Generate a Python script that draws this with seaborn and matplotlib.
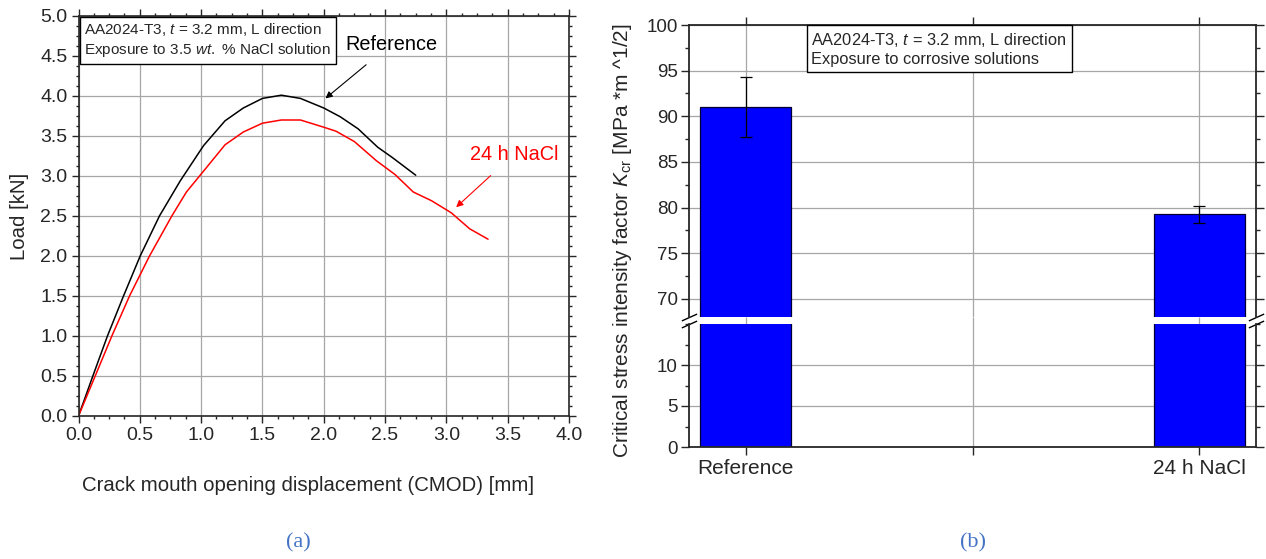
import numpy as np
import pandas as pd
import seaborn as sns
import matplotlib.pyplot as plt
from matplotlib.ticker import MultipleLocator

# data
ref_cmod = [0, 0.117, 0.236, 0.367, 0.503, 0.66, 0.83, 1.02, 1.195, 1.344, 1.50,
            1.654, 1.81, 2.0, 2.135, 2.28, 2.44, 2.56, 2.75]
ref_load = [0, 0.5, 1.0, 1.5, 2.0, 2.5, 2.94, 3.38, 3.69, 3.85, 3.97,
            4.01, 3.97, 3.85, 3.74, 3.59, 3.36, 3.23, 3.01]
nacl_cmod = [0, 0.136, 0.272, 0.416, 0.579, 0.761, 0.88, 1.03, 1.195, 1.344, 1.50,
             1.654, 1.81, 2.0, 2.10, 2.25, 2.43, 2.58, 2.73, 2.88, 3.04, 3.19, 3.34]
nacl_load = [0, 0.5, 1.0, 1.5, 2.0, 2.5, 2.80, 3.08, 3.39, 3.55, 3.66,
             3.70, 3.70, 3.61, 3.56, 3.43, 3.19, 3.02, 2.80, 2.69, 2.54, 2.34, 2.21]

conditions = ["Reference", "24 h NaCl"]
kcr = [91.0, 79.25]
kcr_err = [3.25, 0.95]

curves = pd.concat([
    pd.DataFrame({"cmod": ref_cmod, "load": ref_load, "series": "Reference"}),
    pd.DataFrame({"cmod": nacl_cmod, "load": nacl_load, "series": "24 h NaCl"}),
])
bars = pd.DataFrame({"condition": conditions, "kcr": kcr})

sns.set_style("ticks")
plt.rcParams["font.family"] = ["Liberation Sans", "DejaVu Sans"]
plt.rcParams["mathtext.fontset"] = "custom"
plt.rcParams["mathtext.rm"] = "Liberation Sans"
plt.rcParams["mathtext.it"] = "Liberation Sans:italic"

W, H = 1266, 559
fig = plt.figure(figsize=(W / 100, H / 100), dpi=100)
ax_l = fig.add_axes([78.5 / W, 1 - 416 / H, 490.5 / W, 400 / H])
ax_up = fig.add_axes([689 / W, 1 - 317 / H, 567 / W, 292 / H])
ax_lo = fig.add_axes([689 / W, 1 - 447 / H, 567 / W, 123 / H])

grid_kw = dict(color="#a6a6a6", lw=0.9)

#%% (a) load vs CMOD
sns.lineplot(data=curves, x="cmod", y="load", hue="series",
             palette={"Reference": "black", "24 h NaCl": "#ff0000"},
             estimator=None, sort=False, lw=1.1, legend=False, ax=ax_l)
ax_l.set_xlim(0, 4)
ax_l.set_ylim(0, 5)
ax_l.xaxis.set_major_locator(MultipleLocator(0.5))
ax_l.yaxis.set_major_locator(MultipleLocator(0.5))
ax_l.xaxis.set_minor_locator(MultipleLocator(0.125))
ax_l.yaxis.set_minor_locator(MultipleLocator(0.125))
ax_l.xaxis.set_major_formatter("{x:.1f}")
ax_l.yaxis.set_major_formatter("{x:.1f}")
ax_l.grid(True, which="major", **grid_kw)
ax_l.set_axisbelow(True)
ax_l.tick_params(which="both", direction="out", top=True, right=True,
                 width=1, labelsize=14, pad=3)
ax_l.tick_params(which="major", length=5)
ax_l.tick_params(which="minor", length=2.5)
for s in ax_l.spines.values():
    s.set_linewidth(1.2)
ax_l.set_xlabel("Crack mouth opening displacement (CMOD) [mm]", fontsize=14.7)
ax_l.set_ylabel("Load [kN]", fontsize=14.7)
ax_l.xaxis.set_label_coords(0.468, -0.15)
ax_l.yaxis.set_label_coords(-0.1, 0.5)

ax_l.text(0.012, 0.988, "AA2024-T3, $t$ = 3.2 mm, L direction\n"
          "Exposure to 3.5 $wt.$ % NaCl solution",
          transform=ax_l.transAxes, ha="left", va="top", fontsize=11,
          linespacing=1.25,
          bbox=dict(boxstyle="square,pad=0.3", fc="white", ec="black", lw=1))
ax_l.annotate("Reference", xy=(2.014, 3.97), xytext=(2.55, 4.65),
              ha="center", va="center", fontsize=14.3, color="black",
              arrowprops=dict(arrowstyle="-|>", color="black", lw=0.8,
                              mutation_scale=10, shrinkA=9, shrinkB=0))
ax_l.annotate("24 h NaCl", xy=(3.08, 2.61), xytext=(3.55, 3.27),
              ha="center", va="center", fontsize=14.3, color="#ff0000",
              arrowprops=dict(arrowstyle="-|>", color="#ff0000", lw=0.8,
                              mutation_scale=10, shrinkA=9, shrinkB=0))

#%% (b) broken-axis bar chart of K_cr
for ax in (ax_up, ax_lo):
    sns.barplot(data=bars, x="condition", y="kcr", color="#0000ff",
                saturation=1, width=0.2, edgecolor="#000033", linewidth=0.9,
                errorbar=None, ax=ax)
    ax.set_xlim(-0.125, 1.125)
    ax.set_xticks([0, 0.5, 1])
    ax.grid(True, which="major", **grid_kw)
    ax.set_axisbelow(True)
    ax.set_xlabel("")
    ax.set_ylabel("")
    ax.yaxis.set_minor_locator(MultipleLocator(2.5))
    ax.tick_params(which="both", direction="out", right=True, width=1,
                   labelsize=13.5, pad=2)
    ax.tick_params(which="major", length=6)
    ax.tick_params(which="minor", length=3)
    for s in ax.spines.values():
        s.set_linewidth(1.3)

ax_up.errorbar([0, 1], kcr, yerr=kcr_err, fmt="none", ecolor="black",
               elinewidth=0.9, capsize=4, capthick=0.9)
ax_up.set_ylim(68, 100)
ax_up.set_yticks(np.arange(70, 101, 5))
ax_up.spines["bottom"].set_visible(False)
ax_up.tick_params(axis="x", which="both", bottom=False, top=True,
                  labelbottom=False)

ax_lo.set_ylim(0, 15)
ax_lo.set_yticks([0, 5, 10])
ax_lo.spines["top"].set_visible(False)
ax_lo.set_xticks([0, 0.5, 1], ["Reference", "", "24 h NaCl"])
ax_lo.tick_params(axis="x", which="both", pad=3, labelsize=15)
# vertical grid lines carry on through the break gap
ax_lo.vlines([0, 0.5, 1], 15, 15.9, clip_on=False, zorder=0.5, **grid_kw)

# break marks on both spines
brk = dict(marker=[(-1, -0.45), (1, 0.45)], markersize=11, linestyle="none",
           color="k", mec="k", mew=1, clip_on=False)
ax_up.plot([0, 1], [0, 0], transform=ax_up.transAxes, **brk)
ax_lo.plot([0, 1], [1, 1], transform=ax_lo.transAxes, **brk)

ax_up.text(0.216, 0.979, "AA2024-T3, $t$ = 3.2 mm, L direction\n"
           "Exposure to corrosive solutions",
           transform=ax_up.transAxes, ha="left", va="top", fontsize=11.8,
           linespacing=1.25,
           bbox=dict(boxstyle="square,pad=0.3", fc="white", ec="black", lw=1))

fig.text(622 / W, 1 - 241 / H,
         "Critical stress intensity factor $K_{\\rm cr}$ [MPa *m ^1/2]",
         rotation=90, ha="center", va="center", fontsize=15)

# panel captions
cap_kw = dict(ha="center", va="center", fontsize=16, color="#4472c4",
              family=["Liberation Serif", "DejaVu Serif"])
fig.text(298 / W, 1 - 543 / H, "(a)", **cap_kw)
fig.text(973 / W, 1 - 543 / H, "(b)", **cap_kw)

fig.savefig("out.png", dpi=100)
